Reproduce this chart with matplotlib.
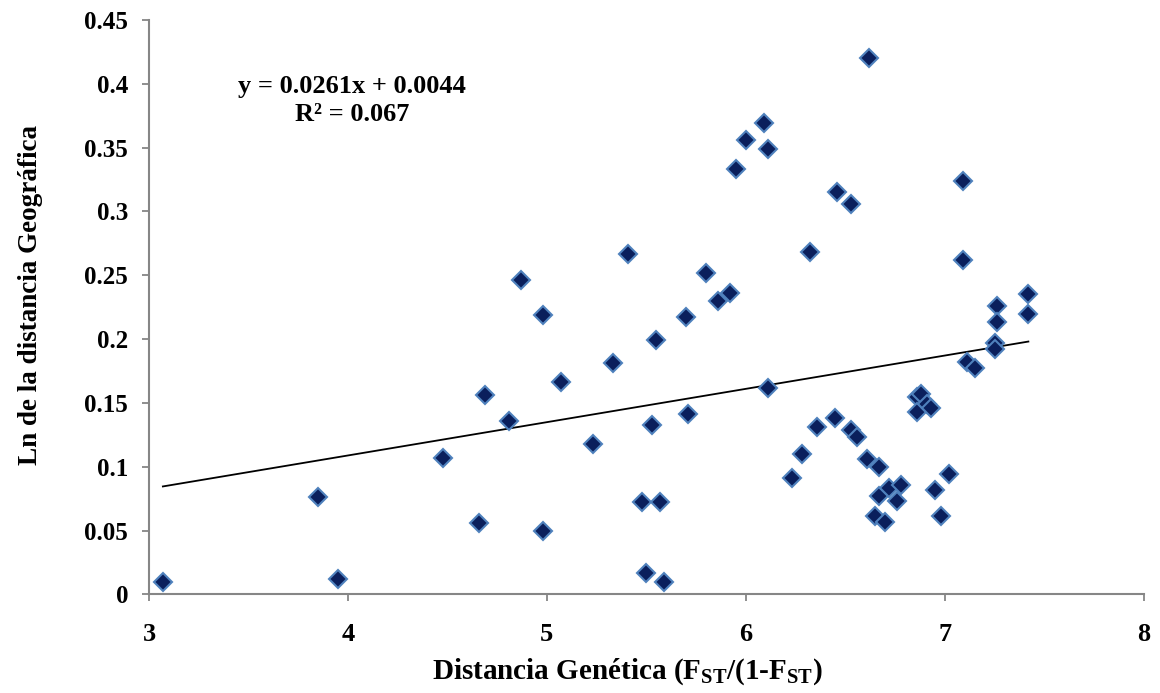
import matplotlib
matplotlib.use("Agg")
import matplotlib.pyplot as plt
import numpy as np

# genetic distance vs ln geographic distance
gen_dist = [3.07, 3.85, 3.95, 4.48, 4.66, 4.69, 4.81, 4.87, 4.98, 4.98,
            5.07, 5.23, 5.33, 5.41, 5.48, 5.50, 5.53, 5.55, 5.57, 5.59,
            5.70, 5.71, 5.80, 5.86, 5.92, 5.95, 6.00, 6.09, 6.11, 6.11,
            6.23, 6.28, 6.32, 6.36, 6.45, 6.46, 6.53, 6.53, 6.56, 6.61,
            6.62, 6.65, 6.67, 6.67, 6.70, 6.72, 6.76, 6.78, 6.86, 6.88,
            6.86, 6.91, 6.93, 6.95, 6.98, 7.02, 7.09, 7.09, 7.11, 7.15,
            7.25, 7.25, 7.26, 7.26, 7.42, 7.42]
geo_dist = [0.010, 0.076, 0.012, 0.107, 0.056, 0.156, 0.136, 0.246, 0.050, 0.219,
            0.166, 0.118, 0.181, 0.267, 0.072, 0.017, 0.133, 0.199, 0.072, 0.010,
            0.217, 0.141, 0.252, 0.230, 0.236, 0.333, 0.356, 0.369, 0.349, 0.162,
            0.091, 0.110, 0.268, 0.131, 0.138, 0.315, 0.306, 0.129, 0.123, 0.106,
            0.420, 0.061, 0.100, 0.077, 0.057, 0.083, 0.073, 0.086, 0.155, 0.157,
            0.143, 0.149, 0.146, 0.082, 0.061, 0.094, 0.324, 0.262, 0.182, 0.177,
            0.197, 0.192, 0.226, 0.213, 0.235, 0.220]

slope = 0.0261
intercept = 0.0044

plt.rcParams['font.family'] = ['Liberation Serif', 'DejaVu Serif']
plt.rcParams['font.weight'] = 'bold'
plt.rcParams['mathtext.fontset'] = 'custom'
plt.rcParams['mathtext.rm'] = 'Liberation Serif:bold'
plt.rcParams['mathtext.bf'] = 'Liberation Serif:bold'
plt.rcParams['mathtext.it'] = 'Liberation Serif:bold'

fig = plt.figure(figsize=(11.6, 6.93), dpi=100)
ax = fig.add_axes([0.1284, 0.1424, 0.8576, 0.8287])

ax.plot(gen_dist, geo_dist, linestyle='none', marker='D', markersize=9.5,
        markerfacecolor='#0a1f5c', markeredgecolor='#4f81bd', markeredgewidth=1.5,
        zorder=3)

xs = np.array([min(gen_dist), max(gen_dist)])
ax.plot(xs, slope * xs + intercept, color='black', linewidth=1.3, zorder=2)

ax.set_xlim(3, 8)
ax.set_ylim(0, 0.45)
ax.set_xticks([3, 4, 5, 6, 7, 8])
ax.set_yticks([0, 0.05, 0.1, 0.15, 0.2, 0.25, 0.3, 0.35, 0.4, 0.45])
ax.set_yticklabels(['0', '0.05', '0.1', '0.15', '0.2', '0.25', '0.3', '0.35', '0.4', '0.45'])

for s in ['top', 'right']:
    ax.spines[s].set_visible(False)
for s in ['left', 'bottom']:
    ax.spines[s].set_color('#868686')
    ax.spines[s].set_linewidth(1.5)

ax.tick_params(axis='both', direction='out', length=5, width=1.3, color='#868686')
ax.tick_params(axis='y', labelsize=18, pad=10)
ax.tick_params(axis='x', labelsize=19, pad=16)
for lab in ax.get_xticklabels() + ax.get_yticklabels():
    lab.set_fontweight('bold')

ax.set_xlabel(r'Distancia Genética (F$_{\mathrm{ST}}$/(1-F$_{\mathrm{ST}}$)',
              fontsize=21, fontweight='bold', labelpad=7)
ax.xaxis.label.set_x(0.481)
ax.set_ylabel('Ln de la distancia Geográfica', fontsize=19.5, fontweight='bold', labelpad=30)
ax.yaxis.label.set_y(0.521)

ax.text(4.02, 0.387, 'y = 0.0261x + 0.0044\nR² = 0.067', ha='center', va='center',
        fontsize=19, fontweight='bold', linespacing=1.3)

fig.savefig('out.png', dpi=100)
